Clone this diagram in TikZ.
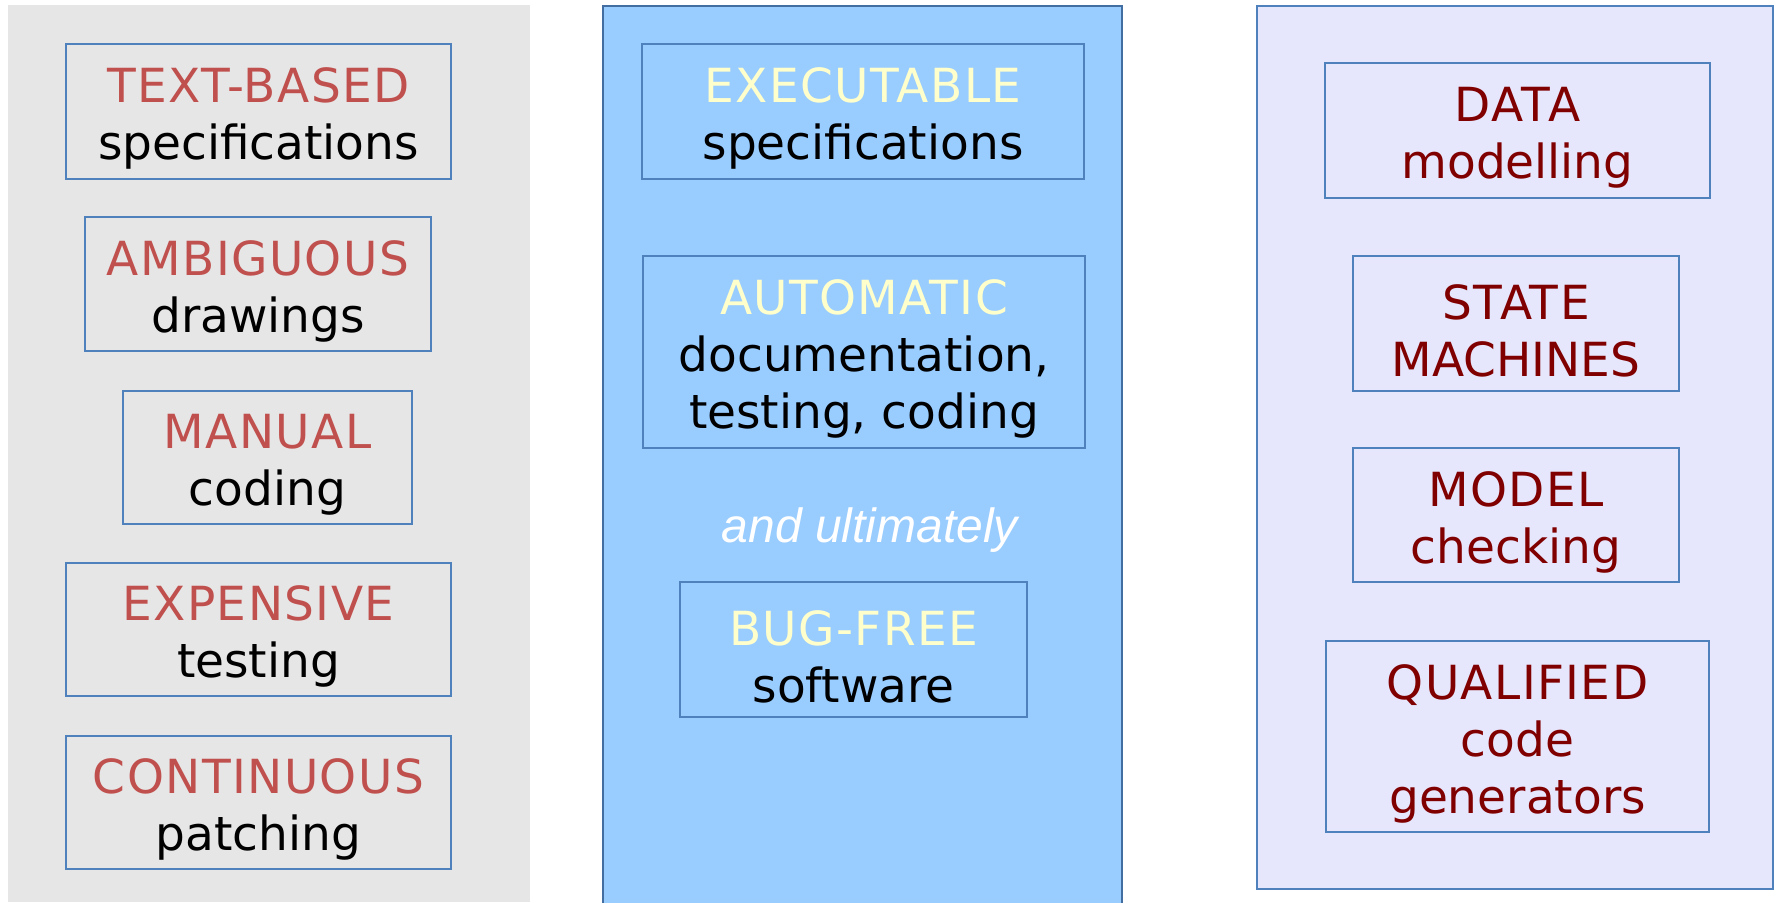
\documentclass[tikz,border=0pt]{standalone}
\usepackage{fontspec}
\setmainfont{DejaVu Sans}
\newfontfamily\capsfont[LetterSpace=3]{DejaVu Sans}
\newfontfamily\slantfont{Liberation Sans}
\definecolor{oldred}{HTML}{C0504D}
\definecolor{newyellow}{HTML}{FFFFCC}
\definecolor{toolred}{HTML}{800000}
\definecolor{boxblue}{HTML}{4F81BD}
\definecolor{panelgrey}{HTML}{E6E6E6}
\definecolor{panelblue}{HTML}{99CCFF}
\definecolor{panellav}{HTML}{E6E6FC}
% first line of a box: lowered a little, wider letters
\newcommand\hd[2]{\rule{0pt}{24.5pt}{\capsfont\color{#1}#2}}
\begin{document}
\begin{tikzpicture}[x=0.5pt,y=-0.5pt,
    item/.style={draw=boxblue,line width=0.75pt,align=center,inner sep=0pt,
      font=\fontsize{23.5}{28.5}\selectfont},
    note/.style={text=white,font=\slantfont\itshape\fontsize{24}{28}\selectfont}]
  \useasboundingbox (0,0) rectangle (1775,902);
  % panels
  \fill[panelgrey] (8,5) rectangle (530,902);
  \draw[boxblue!85!black,line width=0.75pt,fill=panelblue] (603,6) rectangle (1122,905);
  \draw[boxblue,line width=0.75pt,fill=panellav] (1257,6) rectangle (1773,889);
  % today
  \draw
    (258.5,111.5) node[item,minimum width=192.5pt,minimum height=67.5pt] (textspec)
      {\hd{oldred}{TEXT-BASED}\\specifications}
    (258,284) node[item,minimum width=173pt,minimum height=67pt] (drawings)
      {\hd{oldred}{AMBIGUOUS}\\drawings}
    (267.5,457.5) node[item,minimum width=144.5pt,minimum height=66.5pt] (coding)
      {\hd{oldred}{MANUAL}\\coding}
    (258.5,629.5) node[item,minimum width=192.5pt,minimum height=66.5pt] (testing)
      {\hd{oldred}{EXPENSIVE}\\testing}
    (258.5,802.5) node[item,minimum width=192.5pt,minimum height=66.5pt] (patching)
      {\hd{oldred}{CONTINUOUS}\\patching};
  % tomorrow
  \draw
    (863,111.5) node[item,minimum width=221pt,minimum height=67.5pt] (execspec)
      {\hd{newyellow}{EXECUTABLE}\\specifications}
    (864,352) node[item,minimum width=221pt,minimum height=96pt] (automatic)
      {\hd{newyellow}{AUTOMATIC}\\documentation,\\testing, coding}
    (870,530) node[note] (ultimately) {and ultimately}
    (853.5,649.5) node[item,minimum width=173.5pt,minimum height=67.5pt] (bugfree)
      {\hd{newyellow}{BUG-FREE}\\software};
  % means
  \begin{scope}[every node/.append style={text=toolred}]
    \draw
      (1517.5,130.5) node[item,minimum width=192.5pt,minimum height=67.5pt] (data)
        {\hd{toolred}{DATA}\\modelling}
      (1516,323.5) node[item,minimum width=163pt,minimum height=67.5pt] (state)
        {\hd{toolred}{STATE}\\MACHINES}
      (1516,515) node[item,minimum width=163pt,minimum height=67pt] (model)
        {\hd{toolred}{MODEL}\\checking}
      (1517.5,736.5) node[item,minimum width=191.5pt,minimum height=95.5pt] (qualified)
        {\hd{toolred}{QUALIFIED}\\code\\generators};
  \end{scope}
\end{tikzpicture}
\end{document}
